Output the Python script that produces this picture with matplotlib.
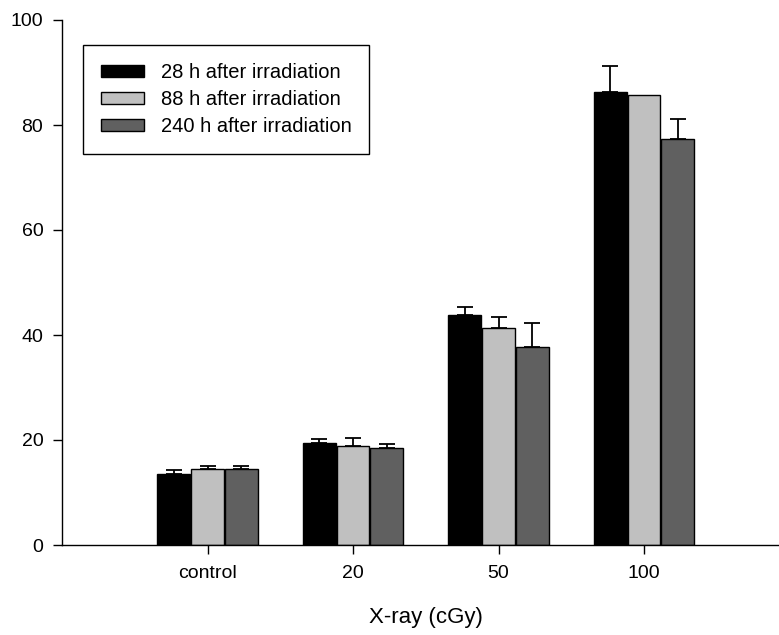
import matplotlib
matplotlib.use("Agg")
from matplotlib import pyplot as plt
import numpy as np

plt.rcParams['font.family'] = ['Liberation Sans', 'DejaVu Sans']

groups = ['control', '20', '50', '100']
series = ['28 h after irradiation', '88 h after irradiation', '240 h after irradiation']
means = [
    [13.5, 19.5, 43.9, 86.3],   # 28 h
    [14.4, 18.9, 41.4, 85.8],   # 88 h
    [14.4, 18.4, 37.8, 77.3],   # 240 h
]
errs = [
    [0.7, 0.6, 1.5, 5.0],
    [0.7, 1.4, 2.1, 0.0],
    [0.7, 0.8, 4.4, 3.9],
]
colors = ['#000000', '#c0c0c0', '#606060']

fig = plt.figure(figsize=(7.79, 6.35), dpi=100)
ax = fig.add_axes([62 / 779, 90 / 635, 727.5 / 779, 525 / 635])

x = np.arange(1, len(groups) + 1)
step = 0.233
w = 0.226
for i, (m, e, c) in enumerate(zip(means, errs, colors)):
    pos = x + (i - 1) * step
    e = np.array(e)
    ax.bar(pos, m, width=w, color=c, edgecolor='black', linewidth=1.0,
           label=series[i], zorder=2)
    mask = e > 0
    ax.errorbar(pos[mask], np.array(m)[mask], yerr=[np.zeros(mask.sum()), e[mask]],
                fmt='none', ecolor='black', elinewidth=1.3, capsize=5.8,
                capthick=1.3, zorder=3)

ax.set_xlim(0, 5)
ax.set_ylim(0, 100)
ax.set_xticks(x)
ax.set_xticklabels(groups)
ax.set_yticks(np.arange(0, 101, 20))
ax.spines['top'].set_visible(False)
ax.spines['right'].set_visible(False)
ax.spines['left'].set_linewidth(1.0)
ax.spines['bottom'].set_linewidth(1.0)
ax.tick_params(axis='both', direction='out', length=6.5, width=1, labelsize=14)
ax.tick_params(axis='x', pad=8)
ax.tick_params(axis='y', pad=7)
ax.set_xlabel('X-ray (cGy)', fontsize=16, labelpad=18)

leg = ax.legend(loc='upper left', bbox_to_anchor=(21 / 727.5, 1 - 25 / 525),
                borderaxespad=0, fancybox=False, edgecolor='black', framealpha=1,
                fontsize=14.5, handlelength=2.15, handleheight=0.55,
                handletextpad=0.8, labelspacing=0.4, borderpad=0.9)
leg.get_frame().set_linewidth(1.0)

plt.savefig('out.png', dpi=100)
